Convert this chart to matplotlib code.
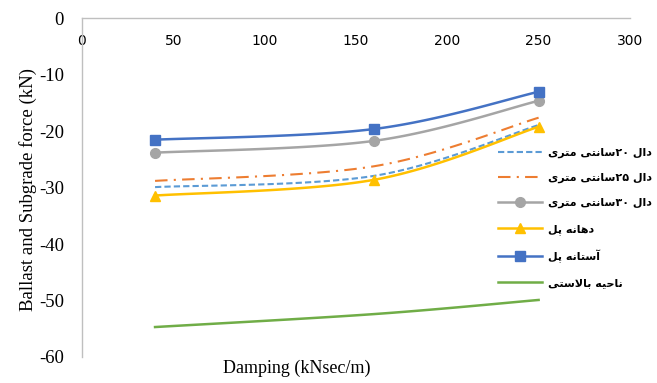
import numpy as np
import matplotlib
matplotlib.use("Agg")
import matplotlib.pyplot as plt

# ---------------- data ----------------
damping = [40, 160, 250]
slab20 = [-29.9, -27.9, -18.9]
slab25 = [-28.8, -26.2, -17.6]
slab30 = [-23.8, -21.7, -14.6]
bridge_span = [-31.4, -28.6, -19.2]
abutment = [-21.5, -19.6, -13.0]
ballast = [-54.7, -52.4, -49.9]

labels = ["دال ۲۰سانتی متری", "دال ۲۵سانتی متری", "دال ۳۰سانتی متری",
          "دهانه پل", "آستانه پل", "ناحیه بالاستی"]
xticks = [0, 50, 100, 150, 200, 250, 300]
yticks = [0, -10, -20, -30, -40, -50, -60]

# ------------- simple Arabic/Persian shaping for display -------------
FORMS = {  # isolated, final, initial, medial
    'ا': ('\uFE8D', '\uFE8E', None, None),
    'آ': ('\uFE81', '\uFE82', None, None),
    'ب': ('\uFE8F', '\uFE90', '\uFE91', '\uFE92'),
    'پ': ('\uFB56', '\uFB57', '\uFB58', '\uFB59'),
    'ت': ('\uFE95', '\uFE96', '\uFE97', '\uFE98'),
    'ح': ('\uFEA1', '\uFEA2', '\uFEA3', '\uFEA4'),
    'د': ('\uFEA9', '\uFEAA', None, None),
    'ر': ('\uFEAD', '\uFEAE', None, None),
    'س': ('\uFEB1', '\uFEB2', '\uFEB3', '\uFEB4'),
    'ل': ('\uFEDD', '\uFEDE', '\uFEDF', '\uFEE0'),
    'م': ('\uFEE1', '\uFEE2', '\uFEE3', '\uFEE4'),
    'ن': ('\uFEE5', '\uFEE6', '\uFEE7', '\uFEE8'),
    'ه': ('\uFEE9', '\uFEEA', '\uFEEB', '\uFEEC'),
    'ی': ('\uFBFC', '\uFBFD', '\uFBFE', '\uFBFF'),
}
LAMALEF = {'ا': ('\uFEFB', '\uFEFC'), 'آ': ('\uFEF5', '\uFEF6')}


def joins_left(ch):
    return ch in FORMS and FORMS[ch][2] is not None


def shape(text):
    chars = list(text)
    out = []
    i = 0
    n = len(chars)
    while i < n:
        c = chars[i]
        prev = chars[i - 1] if i > 0 else None
        prev_joins = prev is not None and joins_left(prev)
        if c == 'ل' and i + 1 < n and chars[i + 1] in LAMALEF:
            iso, fin = LAMALEF[chars[i + 1]]
            out.append(fin if prev_joins else iso)
            i += 2
            continue
        if c in FORMS:
            nxt = chars[i + 1] if i + 1 < n else None
            next_joins = nxt is not None and nxt in FORMS and joins_left(c)
            iso, fin, ini, med = FORMS[c]
            if prev_joins and next_joins:
                out.append(med)
            elif prev_joins:
                out.append(fin)
            elif next_joins:
                out.append(ini)
            else:
                out.append(iso)
        else:
            out.append(c)
        i += 1
    # visual order: reverse, but keep digit runs LTR
    runs = []
    for ch in out:
        isdig = '\u06F0' <= ch <= '\u06F9' or ch.isdigit()
        if runs and runs[-1][0] and isdig:
            runs[-1][1].append(ch)
        else:
            runs.append((isdig, [ch]))
    return ''.join(''.join(r[1]) for r in reversed(runs))


# ------------- Excel-like smoothing -------------
def smooth(xs, ys, xr, yr, npts=40):
    P = np.column_stack([np.asarray(xs, float) / xr, np.asarray(ys, float) / yr])
    ext = np.vstack([P[0], P, P[-1]])
    sx, sy = [], []
    t = np.linspace(0, 1, npts)
    for k in range(len(P) - 1):
        p0, p3 = ext[k + 1], ext[k + 2]
        c1 = p0 + (ext[k + 2] - ext[k]) / 6.0
        c2 = p3 - (ext[k + 3] - ext[k + 1]) / 6.0
        B = ((1 - t) ** 3)[:, None] * p0 + (3 * (1 - t) ** 2 * t)[:, None] * c1 \
            + (3 * (1 - t) * t ** 2)[:, None] * c2 + (t ** 3)[:, None] * p3
        sx.extend(B[:, 0] * xr)
        sy.extend(B[:, 1] * yr)
    return np.array(sx), np.array(sy)


plt.rcParams['axes.unicode_minus'] = False
fig = plt.figure(figsize=(6.57, 3.83), dpi=100)
ax = fig.add_axes([0.1248, 0.068, 0.834, 0.884])

series = [
    (slab20, dict(color='#5B9BD5', ls=(0, (3, 1.5)), lw=1.5), None),
    (slab25, dict(color='#ED7D31', ls=(0, (6, 3, 1, 3)), lw=1.5), None),
    (slab30, dict(color='#A5A5A5', ls='-', lw=1.8), 'o'),
    (bridge_span, dict(color='#FFC000', ls='-', lw=1.8), '^'),
    (abutment, dict(color='#4472C4', ls='-', lw=1.8), 's'),
    (ballast, dict(color='#70AD47', ls='-', lw=1.8), None),
]

handles = []
for (vals, style, mk), lab in zip(series, labels):
    sx, sy = smooth(damping, vals, 300, 60)
    ax.plot(sx, sy, **style)
    if mk:
        ax.plot(damping, vals, ls='none', marker=mk, color=style['color'], ms=7)
    h, = ax.plot([], [], marker=mk if mk else None, ms=7, label=shape(lab), **style)
    handles.append(h)

ax.set_xlim(0, 300)
ax.set_ylim(-60, 0)
ax.set_xticks(xticks)
ax.set_yticks(yticks)

serif = 'Liberation Serif'
for lbl in ax.get_xticklabels() + ax.get_yticklabels():
    lbl.set_fontfamily(serif)
    lbl.set_fontsize(13.5)

ax.spines['top'].set_visible(False)
ax.spines['right'].set_visible(False)
ax.spines['bottom'].set_position(('data', 0))
for s in ('bottom', 'left'):
    ax.spines[s].set_color('#BFBFBF')
    ax.spines[s].set_linewidth(1.0)
ax.tick_params(axis='x', length=0, pad=11)
ax.tick_params(axis='y', length=0, pad=13)

fig.text(0.042, 0.505, 'Ballast and Subgrade force (kN)', rotation=90,
         ha='center', va='center', family=serif, fontsize=13.5)
fig.text(0.451, 0.038, 'Damping (kNsec/m)', ha='center', va='center',
         family=serif, fontsize=13)

leg = ax.legend(handles=handles, loc='upper left', bbox_to_anchor=(0.752, 0.632),
                frameon=False, handlelength=3.9, handletextpad=0.6,
                labelspacing=1.36, borderaxespad=0,
                prop={'family': ['DejaVu Sans'], 'size': 8, 'weight': 'bold'})

fig.savefig('out.png', dpi=100)
